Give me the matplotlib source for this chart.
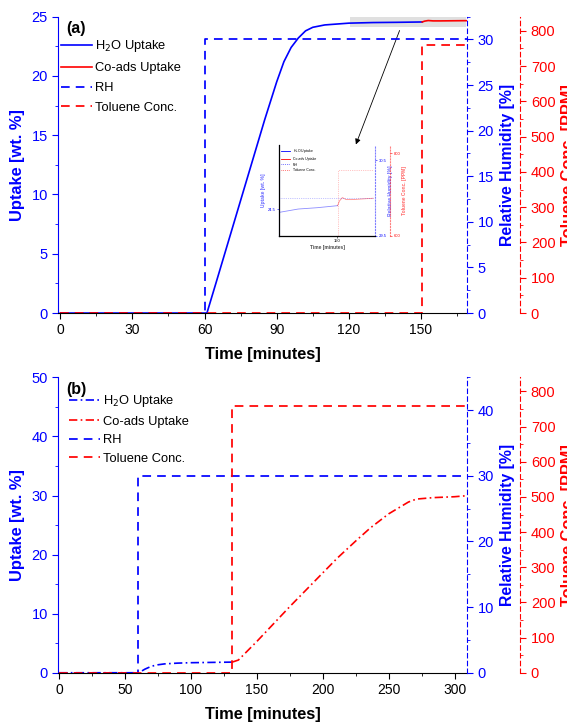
import matplotlib
matplotlib.use("Agg")
import matplotlib.pyplot as plt
from matplotlib.ticker import MultipleLocator
from matplotlib.patches import Rectangle

plt.rcParams['font.family'] = ['Liberation Sans', 'DejaVu Sans']

BLUE = '#0000ff'
RED = '#ff0000'

# ---------------- Panel (a) data ----------------
a_h2o_t = [0, 60, 61, 65, 70, 75, 80, 85, 90, 93, 96, 99, 102, 105, 110, 120, 130, 140, 150.5]
a_h2o_u = [0, 0, 0, 2.7, 6.1, 9.5, 12.9, 16.3, 19.5, 21.2, 22.4, 23.2, 23.8, 24.1, 24.3, 24.45, 24.5, 24.52, 24.55]
a_co_t = [150.5, 151.5, 153, 155, 158, 169]
a_co_u = [24.55, 24.62, 24.67, 24.64, 24.64, 24.66]
a_rh_t = [0, 60, 60, 169]
a_rh_v = [0, 0, 30, 30]
a_tol_t = [0, 150.5, 150.5, 169]
a_tol_v = [0, 0, 760, 760]

# ---------------- Panel (b) data ----------------
b_h2o_t = [0, 60, 62, 65, 70, 75, 80, 90, 100, 115, 131]
b_h2o_u = [0, 0, 0.2, 0.6, 1.1, 1.35, 1.5, 1.63, 1.7, 1.75, 1.8]
b_co_t = [131, 132, 136, 150, 175, 200, 211, 225, 236, 250, 259, 265, 271, 284, 300, 308]
b_co_u = [1.8, 1.85, 2.15, 5.3, 11.2, 16.9, 19.4, 22.3, 24.5, 26.9, 28.1, 28.9, 29.4, 29.65, 29.8, 29.95]
b_rh_t = [0, 60, 60, 309]
b_rh_v = [0, 0, 30, 30]
b_tol_t = [0, 131, 131, 309]
b_tol_v = [0, 0, 760, 760]

labels = ['H$_2$O Uptake', 'Co-ads Uptake', 'RH', 'Toluene Conc.']

fig = plt.figure(figsize=(5.67, 7.23), dpi=100)

L, R = 0.103, 0.824
DASH = (0, (5, 3.5))


def make_panel(rect, xlim, xmaj, xmin, ylim, ymaj, ymin, rhlim, rhmaj, rhmin,
               h2o, co, rh, tol, uptake_ls, tag, leg_anchor, leg_space):
    ax = fig.add_axes(rect)
    ax2 = ax.twinx()
    ax3 = ax.twinx()
    ax3.spines['right'].set_position(('axes', 1.13))

    l1, = ax.plot(h2o[0], h2o[1], color=BLUE, lw=1.2, ls=uptake_ls)
    l2, = ax.plot(co[0], co[1], color=RED, lw=1.2, ls=uptake_ls)
    l3, = ax2.plot(rh[0], rh[1], color=BLUE, lw=1.25, ls=DASH)
    l4, = ax3.plot(tol[0], tol[1], color=RED, lw=1.25, ls=DASH)

    ax.set_xlim(*xlim)
    ax.set_ylim(*ylim)
    ax2.set_ylim(*rhlim)
    ax3.set_ylim(0, 840)

    ax.xaxis.set_major_locator(MultipleLocator(xmaj))
    ax.xaxis.set_minor_locator(MultipleLocator(xmin))
    ax.yaxis.set_major_locator(MultipleLocator(ymaj))
    ax.yaxis.set_minor_locator(MultipleLocator(ymin))
    ax2.yaxis.set_major_locator(MultipleLocator(rhmaj))
    ax2.yaxis.set_minor_locator(MultipleLocator(rhmin))
    ax3.yaxis.set_major_locator(MultipleLocator(100))
    ax3.yaxis.set_minor_locator(MultipleLocator(50))

    for a in (ax, ax2, ax3):
        a.spines['top'].set_visible(False)
    ax.spines['right'].set_visible(False)
    ax2.spines['left'].set_visible(False)
    ax3.spines['left'].set_visible(False)
    ax2.spines['bottom'].set_visible(False)
    ax3.spines['bottom'].set_visible(False)

    ax.spines['left'].set_color(BLUE)
    ax.spines['bottom'].set_color('black')
    ax2.spines['right'].set_color(BLUE)
    ax2.spines['right'].set_linestyle((0, (4, 3)))
    ax3.spines['right'].set_color(RED)
    ax3.spines['right'].set_linestyle((0, (4, 3)))

    ax.tick_params(axis='x', which='major', length=4, direction='out', labelsize=10, colors='black')
    ax.tick_params(axis='x', which='minor', length=2.5, direction='out', colors='black')
    ax.tick_params(axis='y', which='major', length=4, labelsize=10.5, colors=BLUE)
    ax.tick_params(axis='y', which='minor', length=2.5, colors=BLUE)
    ax2.tick_params(axis='y', which='major', length=4, labelsize=10.5, colors=BLUE)
    ax2.tick_params(axis='y', which='minor', length=2.5, colors=BLUE)
    ax3.tick_params(axis='y', which='major', length=4, labelsize=10.5, colors=RED)
    ax3.tick_params(axis='y', which='minor', length=2.5, colors=RED)

    ax.set_xlabel('Time [minutes]', fontsize=11.8, fontweight='bold', labelpad=7)
    ax.set_ylabel('Uptake [wt. %]', fontsize=11.8, fontweight='bold', color=BLUE, labelpad=5)
    ax2.set_ylabel('Relative Humidity [%]', fontsize=11.4, fontweight='bold', color=BLUE, labelpad=4)
    ax3.set_ylabel('Toluene Conc. [PPM]', fontsize=11.8, fontweight='bold', color=RED, labelpad=4)

    ax.text(0.02, 0.985, tag, transform=ax.transAxes, fontsize=11.5, fontweight='bold',
            va='top', ha='left')
    ax.legend([l1, l2, l3, l4], labels, loc='upper left', bbox_to_anchor=leg_anchor,
              frameon=False, fontsize=9.3, handlelength=2.4, handletextpad=0.25,
              labelspacing=leg_space, borderaxespad=0.0, borderpad=0.2)
    return ax, ax2, ax3


# top panel
axa, axa2, axa3 = make_panel([L, 0.567, R - L, 0.977 - 0.567], (-0.75, 169.2), 30, 15,
                             (0, 25), 5, 2.5, (0, 32.5), 5, 2.5,
                             (a_h2o_t, a_h2o_u), (a_co_t, a_co_u),
                             (a_rh_t, a_rh_v), (a_tol_t, a_tol_v), '-', '(a)',
                             (0.0, 0.935), 0.6)
axa.add_patch(Rectangle((120.5, 24.15), 48, 0.85, facecolor='#d9d9d9', edgecolor='none',
                        alpha=0.8, zorder=0, clip_on=False))
axa.annotate('', xy=(122.5, 14.0), xytext=(141.5, 24.05),
             arrowprops=dict(arrowstyle='-|>', color='black', lw=0.6, mutation_scale=8))

# inset in top panel
ins = fig.add_axes([279 / 567, 1 - 236 / 723, 96 / 567, 91 / 723])
ins2 = ins.twinx()
ins3 = ins.twinx()
ins3.spines['right'].set_position(('axes', 1.16))
ins.plot(a_h2o_t, a_h2o_u, color=BLUE, lw=0.6, alpha=0.45)
ins.plot(a_co_t, a_co_u, color=RED, lw=0.6, alpha=0.45)
ins2.plot(a_rh_t, a_rh_v, color=BLUE, lw=0.5, ls=':', alpha=0.45)
ins3.plot(a_tol_t, a_tol_v, color=RED, lw=0.5, ls=':', alpha=0.45)
ins.set_xlim(120, 170)
ins.set_ylim(24.1, 25.45)
ins2.set_ylim(29.5, 30.7)
ins3.set_ylim(700, 820)
ins.set_xticks([150])
ins.set_yticks([24.5])
ins2.set_yticks([29.5, 30.5])
ins3.set_yticks([600, 800])
for a in (ins, ins2, ins3):
    a.spines['top'].set_visible(False)
    a.tick_params(labelsize=3, length=1.5, width=0.4, pad=1)
ins.spines['right'].set_visible(False)
ins.spines['left'].set_color(BLUE)
ins.spines['left'].set_alpha(0.4)
ins.spines['bottom'].set_alpha(0.5)
ins2.spines['right'].set_color(BLUE)
ins2.spines['right'].set_linestyle(':')
ins2.spines['right'].set_alpha(0.5)
ins3.spines['right'].set_color(RED)
ins3.spines['right'].set_linestyle(':')
ins3.spines['right'].set_alpha(0.5)
ins.tick_params(axis='y', colors=BLUE)
ins2.tick_params(axis='y', colors=BLUE)
ins3.tick_params(axis='y', colors=RED)
ins.set_xlabel('Time [minutes]', fontsize=3.5, fontweight='bold', labelpad=1, alpha=0.7)
ins.set_ylabel('Uptake [wt. %]', fontsize=3.5, fontweight='bold', color=BLUE, labelpad=1, alpha=0.6)
ins2.set_ylabel('Relative Humidity [%]', fontsize=3.5, fontweight='bold', color=BLUE, labelpad=1, alpha=0.6)
ins3.set_ylabel('Toluene Conc. [PPM]', fontsize=3.5, fontweight='bold', color=RED, labelpad=1, alpha=0.6)
ins.legend([plt.Line2D([], [], color=BLUE, lw=0.6), plt.Line2D([], [], color=RED, lw=0.6),
            plt.Line2D([], [], color=BLUE, lw=0.5, ls=':'), plt.Line2D([], [], color=RED, lw=0.5, ls=':')],
           labels, loc='upper left', frameon=False, fontsize=2.5, handlelength=2.5,
           labelspacing=0.5, borderaxespad=0.2)

# bottom panel
make_panel([L, 0.0695, R - L, 0.478 - 0.0695], (-0.55, 309.6), 50, 25,
           (0, 50), 10, 5, (0, 45), 10, 5,
           (b_h2o_t, b_h2o_u), (b_co_t, b_co_u),
           (b_rh_t, b_rh_v), (b_tol_t, b_tol_v), (0, (5, 2, 1, 2)), '(b)',
           (0.02, 0.955), 0.5)

fig.savefig('out.png', dpi=100)
